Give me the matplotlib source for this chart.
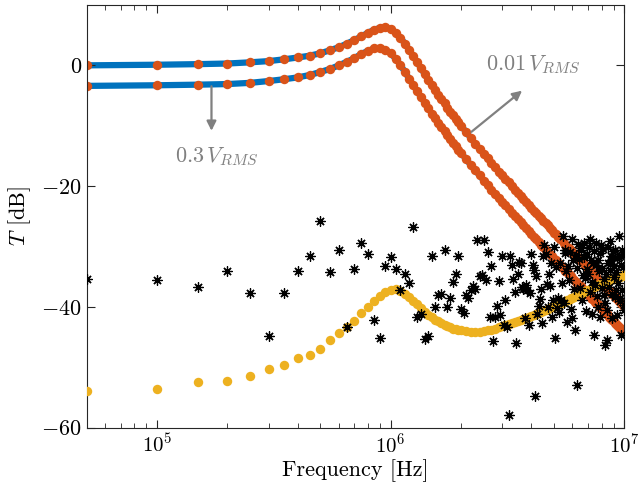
import numpy as np
import matplotlib.pyplot as plt

plt.rcParams['font.family'] = 'serif'
plt.rcParams['font.serif'] = ['cmr10']
plt.rcParams['mathtext.fontset'] = 'cm'
plt.rcParams['axes.formatter.use_mathtext'] = True
plt.rcParams['font.size'] = 16

# sweep grids (Hz): 50 kHz steps for the raw points, coarser above 2 MHz for the curves
freq_sweep = np.arange(1, 201) * 50e3
freq_fit = np.r_[np.arange(1, 40) * 50e3, np.arange(20, 101) * 100e3]

# transfer at 0.01 V_RMS (dB)
t_001 = [0.0, 0.1, 0.2, 0.3, 0.5, 0.7, 1.0, 1.3, 1.6, 2.0,
         2.5, 3.0, 3.6, 4.2, 4.8, 5.4, 5.9, 6.2, 6.3, 6.0,
         5.4, 4.6, 3.6, 2.6, 1.5, 0.5, -0.5, -1.5, -2.4, -3.3,
         -4.1, -4.9, -5.6, -6.3, -7.0, -7.7, -8.3, -8.9, -9.4,
         -10.0, -11.0, -12.0, -13.0, -13.8, -14.6, -15.4, -16.2, -16.9, -17.6,
         -18.2, -18.8, -19.4, -20.0, -20.6, -21.1, -21.6, -22.2, -22.6, -23.1,
         -23.6, -24.1, -24.5, -24.9, -25.3, -25.7, -26.1, -26.5, -26.9, -27.3,
         -27.7, -28.0, -28.4, -28.7, -29.0, -29.4, -29.7, -30.0, -30.3, -30.6,
         -30.9, -31.2, -31.5, -31.8, -32.1, -32.3, -32.6, -32.9, -33.1, -33.4,
         -33.6, -33.9, -34.1, -34.4, -34.6, -34.9, -35.1, -35.3, -35.6, -35.8,
         -36.0, -36.2, -36.4, -36.7, -36.9, -37.1, -37.3, -37.5, -37.7, -37.9,
         -38.1, -38.3, -38.5, -38.6, -38.8, -39.0, -39.2, -39.4, -39.6, -39.7,
         -39.9]

# transfer at 0.3 V_RMS (dB)
t_03 = [-3.4, -3.3, -3.2, -3.1, -2.9, -2.6, -2.3, -2.0, -1.6, -1.1,
        -0.6, 0.0, 0.6, 1.2, 1.9, 2.4, 2.8, 2.9, 2.6, 2.0,
        1.1, 0.1, -1.1, -2.2, -3.3, -4.3, -5.3, -6.2, -7.1, -8.0,
        -8.7, -9.5, -10.2, -10.9, -11.6, -12.2, -12.8, -13.4, -14.0,
        -14.5, -15.5, -16.5, -17.4, -18.2, -19.1, -19.8, -20.6, -21.3, -21.9,
        -22.6, -23.2, -23.8, -24.4, -24.9, -25.5, -26.0, -26.5, -27.0, -27.5,
        -27.9, -28.4, -28.8, -29.2, -29.7, -30.1, -30.5, -30.9, -31.2, -31.6,
        -32.0, -32.3, -32.7, -33.0, -33.4, -33.7, -34.0, -34.3, -34.6, -34.9,
        -35.2, -35.5, -35.8, -36.1, -36.4, -36.6, -36.9, -37.2, -37.4, -37.7,
        -38.0, -38.2, -38.5, -38.7, -38.9, -39.2, -39.4, -39.6, -39.9, -40.1,
        -40.3, -40.5, -40.7, -41.0, -41.2, -41.4, -41.6, -41.8, -42.0, -42.2,
        -42.4, -42.6, -42.8, -43.0, -43.1, -43.3, -43.5, -43.7, -43.9, -44.0,
        -44.2]

# yellow points (dB)
t_yel = [-53.9, -53.6, -52.5, -52.2, -51.5, -50.3, -49.7, -48.4, -47.9, -46.9,
         -45.5, -44.4, -43.3, -42.3, -41.0, -40.1, -39.0, -38.2, -37.6, -37.2,
         -37.1, -37.3, -37.8, -38.3, -39.0, -39.6, -40.2, -40.8, -41.3, -41.7,
         -42.1, -42.4, -42.7, -43.0, -43.2, -43.4, -43.6, -43.7, -43.8,
         -43.9, -44.0, -44.1, -44.1, -44.1, -44.0, -43.9, -43.8, -43.6, -43.4,
         -43.2, -43.0, -42.9, -42.7, -42.5, -42.4, -42.2, -42.0, -41.8, -41.7,
         -41.5, -41.3, -41.1, -41.0, -40.8, -40.6, -40.5, -40.3, -40.2, -40.0,
         -39.9, -39.8, -39.6, -39.5, -39.3, -39.2, -39.1, -38.9, -38.8, -38.6,
         -38.5, -38.4, -38.2, -38.1, -37.9, -37.8, -37.7, -37.6, -37.4, -37.3,
         -37.2, -37.1, -37.0, -36.8, -36.7, -36.6, -36.5, -36.4, -36.3, -36.2,
         -36.1, -36.0, -35.9, -35.8, -35.8, -35.7, -35.6, -35.5, -35.4, -35.4,
         -35.3, -35.2, -35.2, -35.1, -35.1, -35.0, -35.0, -34.9, -34.9, -34.8,
         -34.8]

# black star points (dB), one per 50 kHz
t_star = [-35.4, -35.6, -36.7, -34.1, -37.7, -44.8, -37.7, -34.0, -31.5, -25.8,
          -34.2, -30.5, -43.3, -33.8, -29.4, -31.3, -42.1, -45.1, -33.3, -31.7,
          -33.8, -37.2, -34.6, -36.1, -26.8, -41.7, -41.1, -45.4, -44.8, -31.6,
          -40.1, -38.0, -37.9, -30.6, -40.0, -38.6, -35.9, -34.5, -31.6, -40.3,
          -41.0, -38.1, -38.6, -37.2, -36.6, -37.1, -29.0, -34.9, -34.8, -29.0,
          -35.6, -30.9, -41.7, -33.2, -45.6, -41.7, -39.9, -35.7, -41.4, -31.6,
          -43.0, -38.9, -43.4, -57.9, -31.6, -33.1, -35.3, -37.6, -45.9, -34.5,
          -32.6, -32.8, -36.7, -37.0, -41.9, -36.4, -37.2, -43.0, -37.7, -31.2,
          -33.1, -33.9, -54.8, -34.9, -41.2, -39.9, -38.7, -37.0, -42.7, -31.5,
          -29.8, -31.3, -36.2, -40.0, -34.6, -36.5, -32.8, -41.7, -38.9, -30.0,
          -45.2, -33.4, -40.2, -38.6, -40.8,
          -32.8, -38.9, -36.1, -28.3, -39.4, -31.0, -30.5, -34.0, -42.5, -33.2,
          -35.6, -30.9, -40.3, -28.7, -41.9, -32.3, -37.0, -43.9, -31.4, -52.9,
          -33.6, -29.6, -32.0, -36.8, -30.2, -30.6, -38.9, -34.8, -31.7, -29.5,
          -35.2, -40.6, -31.2, -33.8, -34.5, -30.1, -28.8, -37.6, -32.3, -41.1,
          -35.9, -32.8, -44.7, -30.7, -36.4, -33.1, -29.4, -38.2, -40.0, -32.3,
          -34.1, -31.0, -41.7, -29.8, -36.9, -33.5, -30.4, -38.0, -35.4, -39.4,
          -46.3, -34.5, -40.5, -45.5, -32.8, -30.0, -36.7, -29.1, -33.9, -31.6,
          -32.3, -37.9, -41.9, -30.8, -35.0, -33.3, -38.4, -30.5, -34.2, -37.2,
          -31.9, -41.4, -36.0, -28.3, -31.7, -39.0, -38.6, -33.0, -44.7, -30.5,
          -37.2, -31.2, -33.4, -40.5, -39.7]

blue = "#0072BD"
orange = "#D95319"
yellow = "#EDB120"
axcol = "#262626"

fig = plt.figure(figsize=(6.39, 4.91), dpi=100)
ax = fig.add_axes([0.1357, 0.129, 0.8413, 0.8609])

for t in (t_001, t_03):
    ax.plot(freq_fit, t, color=blue, lw=4.5, zorder=1)
for t in (t_001, t_03):
    ax.plot(freq_fit, t, 'o', color=orange, ms=6.8, mec='none', zorder=2)
ax.plot(freq_fit, t_yel, 'o', color=yellow, ms=6.8, mec='none', zorder=3)
ax.plot(freq_sweep, t_star, ls='none', marker=(8, 2, 0), ms=7.2, mew=0.9,
        color='black', zorder=4)

# annotations
ax.annotate('', xy=(1.71e5, -11.3), xytext=(1.71e5, -3.0),
            arrowprops=dict(arrowstyle='-|>', color='gray', lw=1.6, mutation_scale=14))
ax.text(1.8e5, -15.2, r'$0.3\,V_{RMS}$', ha='center', va='center', color='gray', fontsize=16)
ax.annotate('', xy=(3.73e6, -3.9), xytext=(2.17e6, -11.3),
            arrowprops=dict(arrowstyle='-|>', color='gray', lw=1.6, mutation_scale=14))
ax.text(4.07e6, 0.0, r'$0.01\,V_{RMS}$', ha='center', va='center', color='gray', fontsize=16)

ax.set_xscale('log')
ax.set_xlim(5e4, 1e7)
ax.set_ylim(-60, 10)
ax.set_yticks([-60, -40, -20, 0])
ax.set_xlabel('Frequency [Hz]', labelpad=2)
ax.set_ylabel('$T$ [dB]', labelpad=6)

ax.tick_params(which='both', direction='in', top=True, right=True, color=axcol)
ax.tick_params(which='major', length=6)
ax.tick_params(which='minor', length=3.5)
ax.tick_params(axis='x', labelsize=15)
for s in ax.spines.values():
    s.set_color(axcol)

fig.savefig('out.png', dpi=100)
